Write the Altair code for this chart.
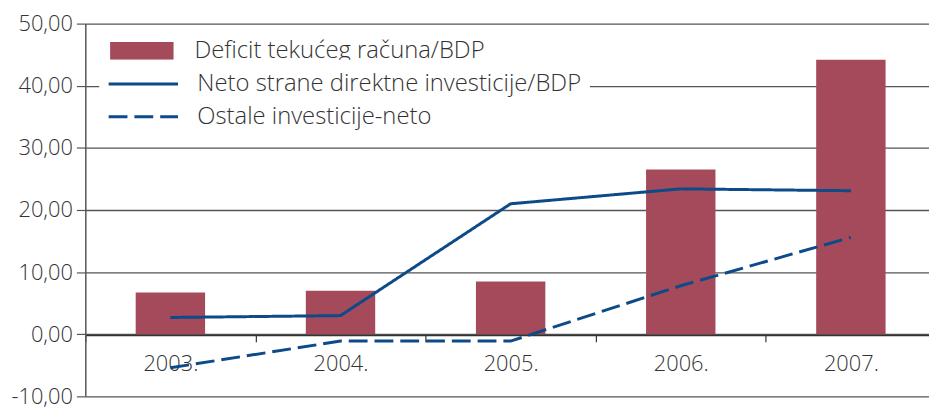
import altair as alt
import pandas as pd

years = ["2003.", "2004.", "2005.", "2006.", "2007."]
series_names = [
    "Deficit tekućeg računa/BDP",
    "Neto strane direktne investicije/BDP",
    "Ostale investicije-neto",
]
deficit = [6.7, 7.0, 8.5, 26.5, 44.2]
fdi = [2.7, 3.0, 21.0, 23.4, 23.1]
other = [-5.4, -1.1, -1.1, 7.8, 15.6]
y_ticks = [-10, 0, 10, 20, 30, 40, 50]

BAR = "#a54a5a"
LINE = "#0c4a88"
FONT = "Open Sans"
TXT = "#333333"

rows = []
for name, vals in zip(series_names, [deficit, fdi, other]):
    for yr, v in zip(years, vals):
        rows.append({"year": yr, "series": name, "value": v})
df = pd.DataFrame(rows)

legend_common = dict(
    title=None,
    orient="none",
    padding=8,
    fillColor="white",
    symbolSize=4900,
    clipHeight=33,
    rowPadding=0,
    labelOffset=18,
    labelFont=FONT,
    labelFontSize=24,
    labelFontWeight=300,
    labelColor=TXT,
    labelLimit=600,
)

fill = alt.Fill(
    "series:N",
    scale=alt.Scale(domain=[series_names[0]], range=[BAR]),
    legend=alt.Legend(
        legendX=14,
        legendY=3,
        symbolType="M-0.914,-0.257H0.914V0.257H-0.914Z",
        symbolStrokeWidth=0,
        symbolOpacity=1,
        **legend_common,
    ),
)

dash = alt.StrokeDash(
    "series:N",
    scale=alt.Scale(domain=series_names[1:], range=[[1, 0], [19, 7]]),
    legend=alt.Legend(
        legendX=14,
        legendY=36.5,
        symbolType="stroke",
        symbolStrokeColor=LINE,
        symbolStrokeWidth=3,
        symbolOpacity=1,
        **legend_common,
    ),
)

x = alt.X(
    "year:N",
    sort=years,
    title=None,
    scale=alt.Scale(paddingInner=0, paddingOuter=0, range=[0, 858]),
    axis=alt.Axis(
        orient="bottom",
        offset=-62,
        labelAngle=0,
        tickBand="extent",
        tickSize=7,
        tickColor=TXT,
        tickWidth=1.2,
        domainColor=TXT,
        domainWidth=1.5,
        labelPadding=12,
        labelFont=FONT,
        labelFontSize=22,
        labelFontWeight=300,
        labelColor=TXT,
        grid=False,
    ),
)

y = alt.Y(
    "value:Q",
    title=None,
    scale=alt.Scale(domain=[-10, 50], nice=False, zero=False),
    axis=alt.Axis(
        values=y_ticks,
        labelExpr="(datum.value < 0 ? '-' : '') + replace(format(abs(datum.value), '.2f'), '.', ',')",
        tickSize=9,
        tickColor="#555555",
        tickWidth=1.2,
        domainColor="#555555",
        domainWidth=1.5,
        labelPadding=4,
        labelFont=FONT,
        labelFontSize=22,
        labelFontWeight=300,
        labelColor=TXT,
        grid=True,
        gridColor="#555555",
        gridWidth=1.3,
    ),
)

base = alt.Chart(df)

bars = base.transform_filter(
    alt.datum.series == series_names[0]
).mark_bar(size=70).encode(x=x, y=y, fill=fill)

lines = base.transform_filter(
    alt.datum.series != series_names[0]
).mark_line(strokeWidth=3, color=LINE).encode(x=x, y=y, strokeDash=dash)

chart = alt.layer(bars, lines).resolve_legend(fill="independent", strokeDash="independent").properties(
    width=851,
    height=376,
    autosize=alt.AutoSizeParams(type="none"),
    padding={"left": 78, "top": 14, "right": 0, "bottom": 12},
).configure_view(stroke=None)

chart.save("out.html", embed_options={"renderer": "svg", "actions": False})
